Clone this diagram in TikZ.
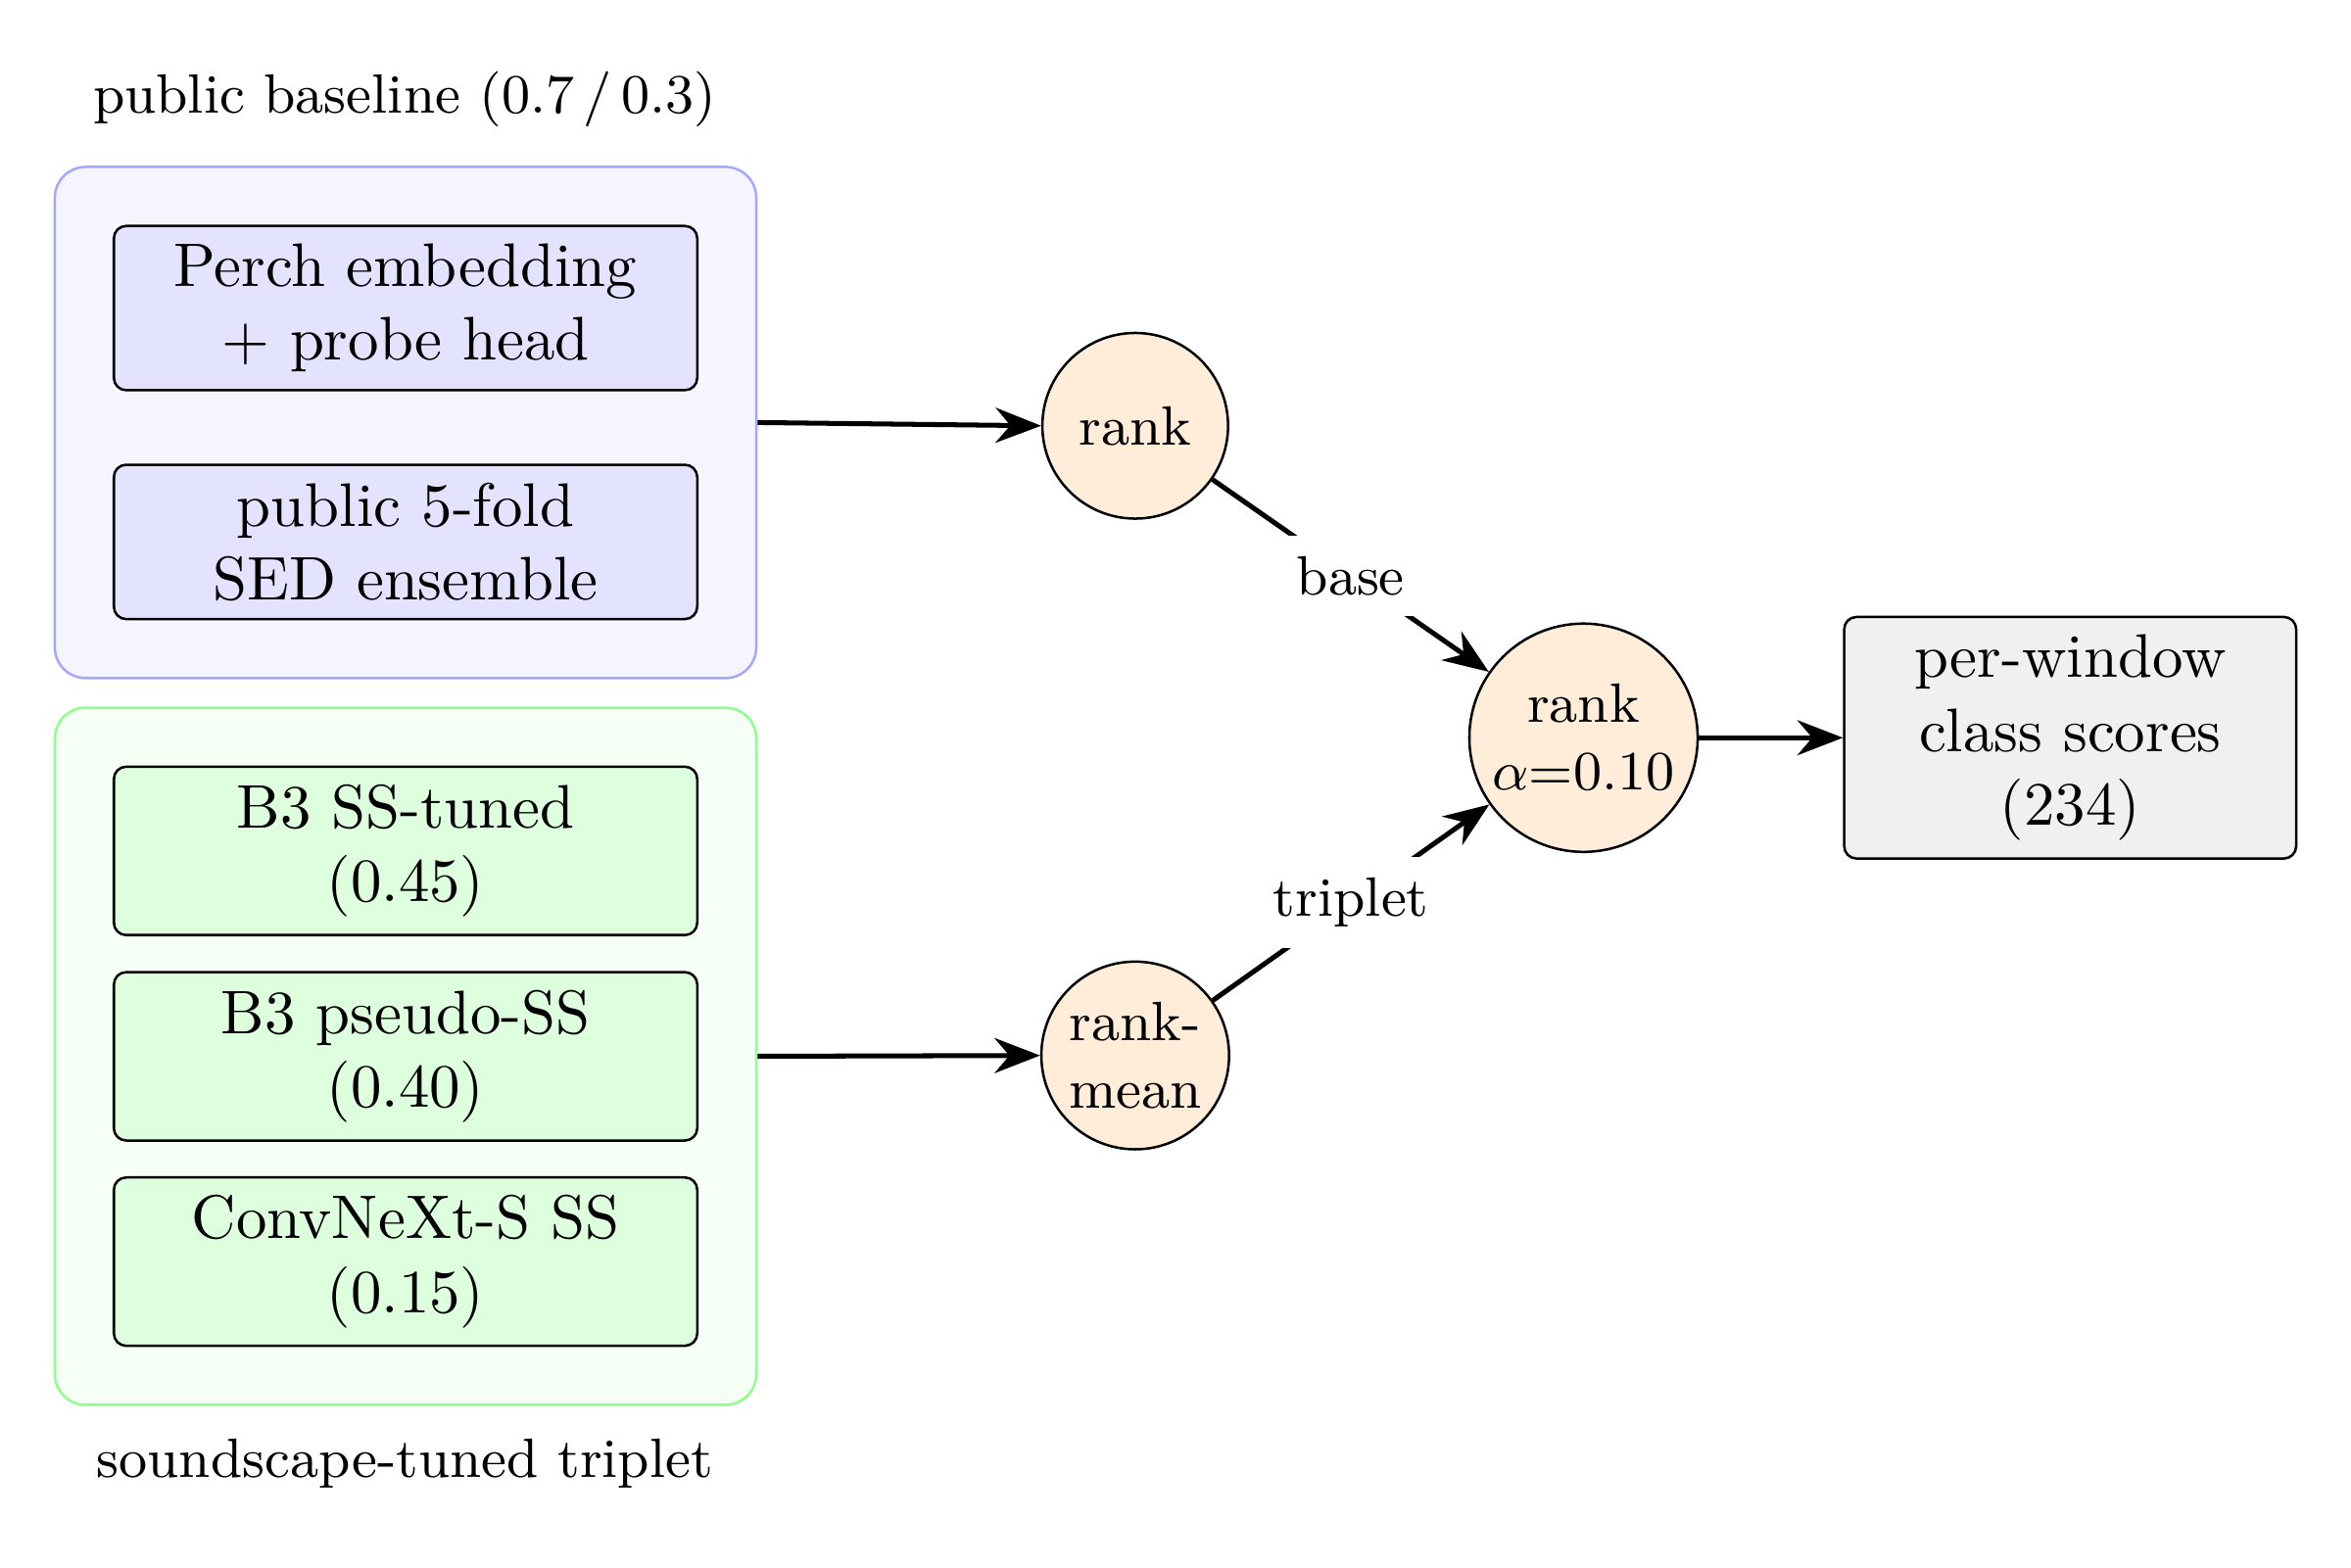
\documentclass[tikz,border=0pt]{standalone}
\usepackage{amsmath,amssymb}
\usepackage{tikz}
\usetikzlibrary{positioning,calc,arrows.meta,fit,backgrounds}
\usepackage{xcolor}

\begin{document}
\begin{tikzpicture}[
    model/.style={rectangle,draw,rounded corners=2pt,align=center,minimum width=3.33cm,inner ysep=2.9pt},
    group/.style={rectangle,draw,rounded corners=5pt,inner xsep=0.33cm,inner ysep=0.33cm},
    mix/.style={circle,draw,fill=orange!15,align=center,font=\small,inner sep=1pt},
    flow/.style={-{Stealth[length=2.6mm,width=2mm]},thick}]

\useasboundingbox (0,0) rectangle (13.42,-8.95);

% Public baseline group
\node[model,fill=blue!11] (perch) at (2.315,-1.759) {Perch embedding\\+ probe head};
\node[model,fill=blue!11] (sed) at (2.315,-3.094) {public 5-fold\\SED ensemble};
\node[font=\small] (basetitle) at (2.311,-0.565) {public baseline (0.7\,/\,0.3)};

% Soundscape-tuned triplet group
\node[model,fill=green!13] (bthree) at (2.315,-4.858) {B3 SS-tuned\\(0.45)};
\node[model,fill=green!13] (pseudo) at (2.315,-6.031) {B3 pseudo-SS\\(0.40)};
\node[model,fill=green!13] (convnext) at (2.315,-7.203) {ConvNeXt-S SS\\(0.15)};
\node[font=\small] (triptitle) at (2.311,-8.355) {soundscape-tuned triplet};

\begin{scope}[on background layer]
\node[group,draw=blue!35,fill=blue!4,fit=(perch)(sed)] (base) {};
\node[group,draw=green!45,fill=green!4,fit=(bthree)(convnext)] (trip) {};
\end{scope}

% Rank blending
\node[mix,minimum size=1.06cm] (rank) at (6.480,-2.431) {rank};
\node[mix,minimum size=1.06cm] (rankmean) at (6.480,-6.026) {rank-\\mean};
\node[mix,minimum size=1.27cm] (blend) at (9.039,-4.212) {rank\\$\alpha$=0.10};
\node[rectangle,draw,rounded corners=2pt,fill=gray!12,align=center,minimum width=2.58cm,inner ysep=2.9pt] (out) at (11.817,-4.212) {per-window\\class scores\\(234)};

\draw[flow] (base.east) -- (rank.west);
\draw[flow] (trip.east) -- (rankmean.west);
\draw[flow] (rank) -- node[fill=white,font=\small] {base} (blend);
\draw[flow] (rankmean) -- node[fill=white,font=\small] {triplet} (blend);
\draw[flow] (blend) -- (out);

\end{tikzpicture}
\end{document}
